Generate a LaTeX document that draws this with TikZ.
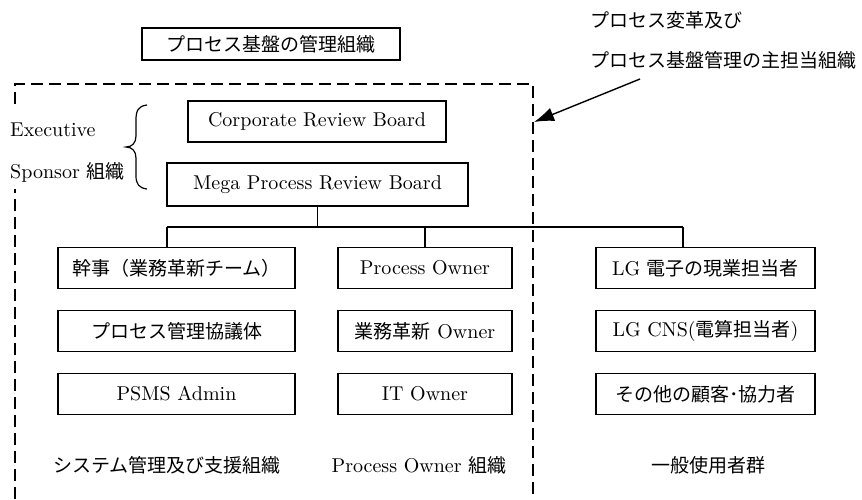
\documentclass[tikz,border=0pt]{standalone}
\usepackage{fontspec}
\setmainfont{lmroman10-regular.otf}
\newfontfamily\jpfont{Noto Sans CJK JP}
\usetikzlibrary{arrows.meta}
% Japanese text run, set in the CJK family
\newcommand\jt[1]{{\jpfont\fontsize{19}{22}\selectfont #1}}

\begin{document}
\begin{tikzpicture}[x=1pt, y=-1pt,
  every node/.style={font=\fontsize{20}{24}\selectfont, inner sep=0pt},
  box/.style={draw, line width=1.3pt, minimum height=41pt},
  link/.style={line width=1.2pt},
  frame/.style={line width=1.3pt, dash pattern=on 12pt off 6pt},
  lbl/.style={anchor=west}]
\useasboundingbox (0,0) rectangle (862,499);

% heading box and the note on the right
\node[box, minimum width=258pt, minimum height=32pt] (title) at (271,44) {\jt{プロセス基盤の管理組織}};
\node[lbl] (note1) at (590,20) {\jt{プロセス変革及び}};
\node[lbl] (note2) at (590,60) {\jt{プロセス基盤管理の主担当組織}};

% dashed frame around the core organisation (left side broken by the sponsor label)
\coordinate (fbl) at (15,499);
\coordinate (fgb) at (15,189);
\coordinate (fgt) at (15,104);
\coordinate (ftl) at (15,84);
\coordinate (ftr) at (533,84);
\coordinate (fbr) at (533,499);
\draw[frame] (fgt) -- (ftl) -- (ftr) -- (fbr);
\draw[frame] (fbl) -- (fgb);

% arrow pointing at the frame
\coordinate (atail) at (640,79);
\coordinate (ahead) at (534,122);
\draw[line width=1.4pt, -{Latex[length=20pt,width=14pt]}] (atail) -- (ahead);

% executive sponsor group
\node[lbl] (exec) at (10,130) {Executive};
\node[lbl] (spons) at (10,172) {Sponsor \jt{組織}};
\draw[line width=1.2pt] (147,105) .. controls (138,106) and (136,111) .. (136,120)
  -- (136,136) .. controls (136,143) and (132,147) .. (126,147)
  .. controls (132,147) and (136,151) .. (136,158)
  -- (136,176) .. controls (136,184) and (139,188) .. (147,189);

\node[box, minimum width=258pt] (crb) at (317,121.5) {Corporate Review Board};
\node[box, minimum width=301pt, minimum height=43pt] (mega) at (317.5,184.5) {Mega Process Review Board};

% three columns of roles
\node[box, minimum width=237pt] (kanji) at (176.5,268) {\jt{幹事（業務革新チーム）}};
\node[box, minimum width=237pt] (kyogi) at (176.5,331) {\jt{プロセス管理協議体}};
\node[box, minimum width=237pt] (psms)  at (176.5,394) {PSMS Admin};

\node[box, minimum width=174pt] (po)    at (425,268) {Process Owner};
\node[box, minimum width=174pt] (bpo)   at (425,331) {\jt{業務革新} Owner};
\node[box, minimum width=174pt] (ito)   at (425,394) {IT Owner};

\node[box, minimum width=219pt] (lg)    at (705.5,268) {LG \jt{電子の現業担当者}};
\node[box, minimum width=219pt] (cns)   at (705.5,331) {LG CNS(\jt{電算担当者})};
\node[box, minimum width=219pt] (other) at (705.5,394) {\jt{その他の顧客･協力者}};

% connectors from the review board to the columns
\coordinate (bus) at (317.5,227);
\coordinate (d1) at (167,227);
\coordinate (d3) at (683,227);
\draw[link] (mega.south) -- (bus);
\draw[link] (d1) -- (d3);
\draw[link] (d1) -- (d1 |- kanji.north);
\draw[link] (bus -| po.north) -- (po.north);
\draw[link] (d3) -- (d3 |- lg.north);

% column captions
\node (cap1) at (167,465) {\jt{システム管理及び支援組織}};
\node (cap2) at (419,465) {Process Owner \jt{組織}};
\node (cap3) at (708,465) {\jt{一般使用者群}};
\end{tikzpicture}
\end{document}
